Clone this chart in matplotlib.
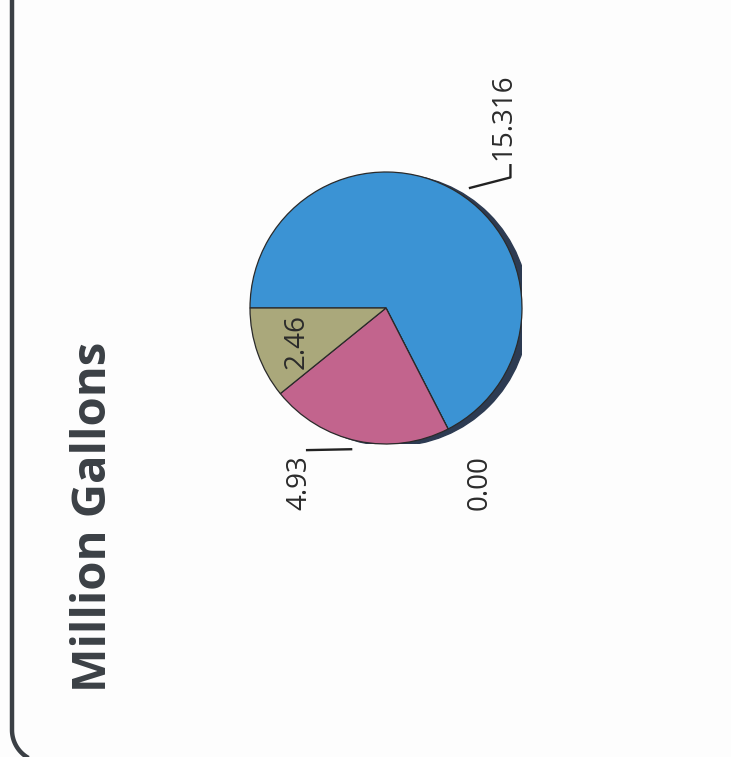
import matplotlib
matplotlib.use('Agg')
import matplotlib.pyplot as plt
import numpy as np
from matplotlib.patches import Circle

# chart data
values = [15.316, 0.00, 4.93, 2.46]
labels = ['15.316', '0.00', '4.93', '2.46']
colors = ['#3b93d4', '#3b93d4', '#c2648d', '#aaa87b']
title = 'Million Gallons'

W, H = 731, 757
fig = plt.figure(figsize=(W / 100, H / 100), dpi=100)
fig.patch.set_facecolor('#fdfdfd')

# background axes in pixel units (y up) for the frame: left edge + rounded corner
bg = fig.add_axes([0, 0, 1, 1])
bg.set_xlim(0, W)
bg.set_ylim(0, H)
bg.axis('off')
rad, left, bottom = 32, 12, -5
t = np.linspace(np.pi, 1.5 * np.pi, 40)
fx = np.concatenate([[left], left + rad + rad * np.cos(t), [W + 20]])
fy = np.concatenate([[H + 20], bottom + rad + rad * np.sin(t), [bottom]])
bg.plot(fx, fy, color='#3b4045', lw=3.2, solid_capstyle='butt')

# pie axes: centre (386, 308) px, radius 136 px
cx, cy, r = 386, 308, 136
ax = fig.add_axes([(cx - r) / W, (H - cy - r) / H, 2 * r / W, 2 * r / H])

# dark rim on the right side (3d look)
ax.add_patch(Circle((0.05, -0.015), 1.0, color='#2d3b52', zorder=0))

wedges, _ = ax.pie(values, colors=colors, startangle=180, counterclock=False,
                   wedgeprops=dict(edgecolor='#2a2a2a', linewidth=0.9),
                   radius=1.0)
for w in wedges:
    w.set_zorder(2)
ax.set_xlim(-1, 1)
ax.set_ylim(-1, 1)
ax.set_aspect('auto')

lab_font = dict(family='Open Sans', fontsize=20, color='#2b2b2b', rotation=90)

# 15.316 with L-shaped leader
w = wedges[0]
mid = np.deg2rad((w.theta1 + w.theta2) / 2)
x0, y0 = 1.07 * np.cos(mid), 1.07 * np.sin(mid)
ax.plot([x0 + 0.06, 0.915, 0.915], [y0 - 0.03, 0.96, 1.05], color='#222222', lw=1.7,
        clip_on=False, zorder=3)
ax.text(0.86, 1.09, labels[0], ha='center', va='bottom', **lab_font)

# 0.00 (no leader)
ax.text(0.69, -1.08, labels[1], ha='center', va='top', **lab_font)

# 4.93 with leader
w = wedges[2]
mid = np.deg2rad((w.theta1 + w.theta2) / 2)
x0, y0 = np.cos(mid), np.sin(mid)
ax.plot([x0 - 0.05, -0.58], [y0 - 0.06, -1.045], color='#222222', lw=1.7,
        clip_on=False, zorder=3)
ax.text(-0.64, -1.08, labels[2], ha='center', va='top', **lab_font)

# 2.46 inside the wedge
w = wedges[3]
mid = np.deg2rad((w.theta1 + w.theta2) / 2)
ax.text(0.70 * np.cos(mid), 0.70 * np.sin(mid) - 0.01, labels[3],
        ha='center', va='center', **lab_font)

# title
fig.text(93 / W, 1 - 517 / H, title, rotation=90, ha='center', va='center',
         family='Open Sans', fontweight='bold', fontsize=34, color='#3b4045')

fig.savefig('out.png', dpi=100, facecolor=fig.get_facecolor())
